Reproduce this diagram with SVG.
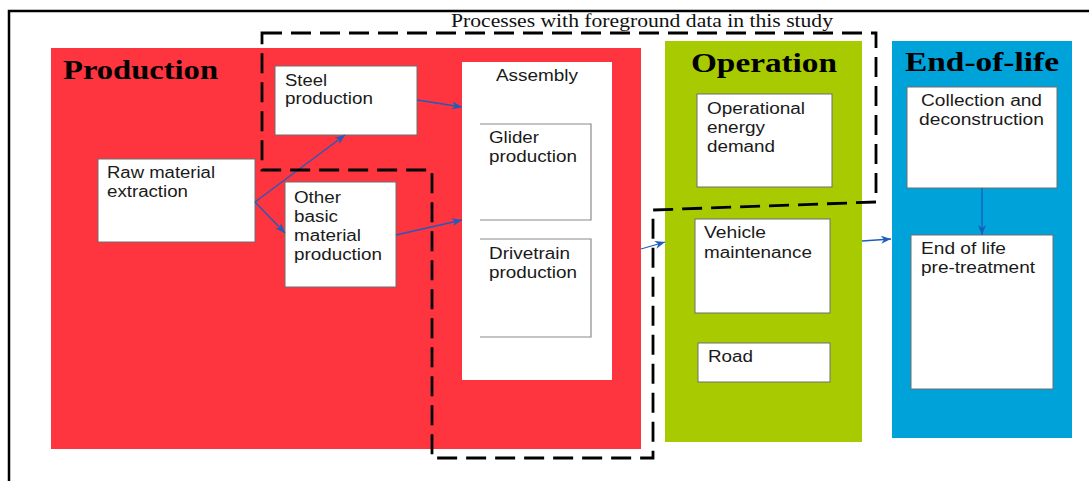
<svg xmlns="http://www.w3.org/2000/svg" width="1089" height="481" viewBox="0 0 1089 481">
  <style>
    .stage-prod { fill: #FE343F; }
    .stage-op { fill: #A8CA00; }
    .stage-eol { fill: #00A2DA; }
    .box { fill: #ffffff; stroke: #6e6e6e; stroke-width: 1; }
    .head { font-family: "Liberation Serif", "Times New Roman", serif; font-weight: bold; font-size: 28px; fill: #000; }
    .lbl { font-family: "Liberation Sans", Arial, sans-serif; font-size: 16px; fill: #1a1a1a; }
    .note { font-family: "Liberation Serif", "Times New Roman", serif; font-size: 18px; fill: #111; }
    .link { fill: none; stroke: #1C5DBE; stroke-width: 1.3; marker-end: url(#arr); }
    .scope { fill: none; stroke: #000; stroke-width: 2.8; stroke-dasharray: 20 9; }
  </style>
  <defs>
    <marker id="arr" markerUnits="userSpaceOnUse" markerWidth="11" markerHeight="9" refX="10" refY="4.5" orient="auto">
      <path d="M0,0.5 L10,4.5 L0,8.5 L3,4.5 Z" fill="#1C5DBE"/>
    </marker>
  </defs>

  <rect width="1089" height="481" fill="#ffffff"/>
  <!-- outer frame -->
  <rect x="9" y="11" width="1095" height="490" fill="none" stroke="#000" stroke-width="2.5"/>

  <!-- life-cycle stages -->
  <g id="stage-production">
    <rect class="stage-prod" x="51" y="48" width="590" height="401"/>
    <text class="head" x="63" y="79" textLength="155" lengthAdjust="spacingAndGlyphs">Production</text>
  </g>
  <g id="stage-operation">
    <rect class="stage-op" x="665" y="41" width="197" height="401"/>
    <text class="head" x="691" y="72" textLength="146" lengthAdjust="spacingAndGlyphs">Operation</text>
  </g>
  <g id="stage-eol">
    <rect class="stage-eol" x="892" y="41" width="180" height="397"/>
    <text class="head" x="905" y="71" textLength="154" lengthAdjust="spacingAndGlyphs">End-of-life</text>
  </g>

  <!-- production processes -->
  <g id="raw-material">
    <rect class="box" x="98" y="159" width="157" height="83"/>
    <text class="lbl" x="107" y="178" textLength="108" lengthAdjust="spacingAndGlyphs">Raw material</text>
    <text class="lbl" x="107" y="197" textLength="81" lengthAdjust="spacingAndGlyphs">extraction</text>
  </g>
  <g id="steel">
    <rect class="box" x="275" y="66" width="142" height="69" stroke="#bbbbbb"/>
    <text class="lbl" x="285" y="86" textLength="42" lengthAdjust="spacingAndGlyphs">Steel</text>
    <text class="lbl" x="285" y="104" textLength="88" lengthAdjust="spacingAndGlyphs">production</text>
  </g>
  <g id="other-material">
    <rect class="box" x="285" y="182" width="111" height="105" stroke="#bbbbbb"/>
    <text class="lbl" x="294" y="203" textLength="47" lengthAdjust="spacingAndGlyphs">Other</text>
    <text class="lbl" x="294" y="222" textLength="44" lengthAdjust="spacingAndGlyphs">basic</text>
    <text class="lbl" x="294" y="241" textLength="67" lengthAdjust="spacingAndGlyphs">material</text>
    <text class="lbl" x="294" y="260" textLength="88" lengthAdjust="spacingAndGlyphs">production</text>
  </g>
  <g id="assembly">
    <rect x="462" y="62" width="150" height="318" fill="#ffffff"/>
    <text class="lbl" x="496" y="81" textLength="82" lengthAdjust="spacingAndGlyphs">Assembly</text>
  </g>
  <g id="glider">
    <path d="M480,124 H591 V220 H480" fill="none" stroke="#8a8a8a" stroke-width="1.2"/>
    <text class="lbl" x="489" y="143" textLength="50" lengthAdjust="spacingAndGlyphs">Glider</text>
    <text class="lbl" x="489" y="162" textLength="88" lengthAdjust="spacingAndGlyphs">production</text>
  </g>
  <g id="drivetrain">
    <path d="M480,239 H591 V337 H480" fill="none" stroke="#8a8a8a" stroke-width="1.2"/>
    <text class="lbl" x="489" y="259" textLength="81" lengthAdjust="spacingAndGlyphs">Drivetrain</text>
    <text class="lbl" x="489" y="278" textLength="88" lengthAdjust="spacingAndGlyphs">production</text>
  </g>

  <!-- operation processes -->
  <g id="energy-demand">
    <rect class="box" x="697" y="94" width="135" height="93"/>
    <text class="lbl" x="707" y="114" textLength="98" lengthAdjust="spacingAndGlyphs">Operational</text>
    <text class="lbl" x="707" y="133" textLength="58" lengthAdjust="spacingAndGlyphs">energy</text>
    <text class="lbl" x="707" y="152" textLength="68" lengthAdjust="spacingAndGlyphs">demand</text>
  </g>
  <g id="maintenance">
    <rect class="box" x="695" y="219" width="135" height="94"/>
    <text class="lbl" x="704" y="238" textLength="62" lengthAdjust="spacingAndGlyphs">Vehicle</text>
    <text class="lbl" x="704" y="258" textLength="108" lengthAdjust="spacingAndGlyphs">maintenance</text>
  </g>
  <g id="road">
    <rect class="box" x="698" y="343" width="132" height="39"/>
    <text class="lbl" x="708" y="362" textLength="45" lengthAdjust="spacingAndGlyphs">Road</text>
  </g>

  <!-- end-of-life processes -->
  <g id="collection">
    <rect class="box" x="907" y="87" width="150" height="101"/>
    <text class="lbl" x="921" y="106" textLength="121" lengthAdjust="spacingAndGlyphs">Collection and</text>
    <text class="lbl" x="919" y="125" textLength="125" lengthAdjust="spacingAndGlyphs">deconstruction</text>
  </g>
  <g id="pretreatment">
    <rect class="box" x="911" y="235" width="142" height="154" stroke="#444"/>
    <text class="lbl" x="921" y="254" textLength="85" lengthAdjust="spacingAndGlyphs">End of life</text>
    <text class="lbl" x="921" y="273" textLength="114" lengthAdjust="spacingAndGlyphs">pre-treatment</text>
  </g>

  <!-- flows -->
  <g id="connectors">
    <path class="link" d="M255,202 L345,135"/>
    <path class="link" d="M255,202 L285,233"/>
    <path class="link" d="M417,100 L462,107"/>
    <path class="link" d="M396,235 L462,220"/>
    <path class="link" d="M641,249 L665,242"/>
    <path class="link" d="M862,241 L891,239"/>
    <path class="link" d="M982,188 L982,235"/>
  </g>

  <!-- system boundary for foreground data -->
  <g id="foreground-scope">
    <path class="scope" d="M262,33 L876,33 L876,202 L653,210 L653,458 L432,458 L432,170 L262,170 Z"/>
    <text class="note" x="451" y="27" textLength="382" lengthAdjust="spacingAndGlyphs">Processes with foreground data in this study</text>
  </g>
</svg>
